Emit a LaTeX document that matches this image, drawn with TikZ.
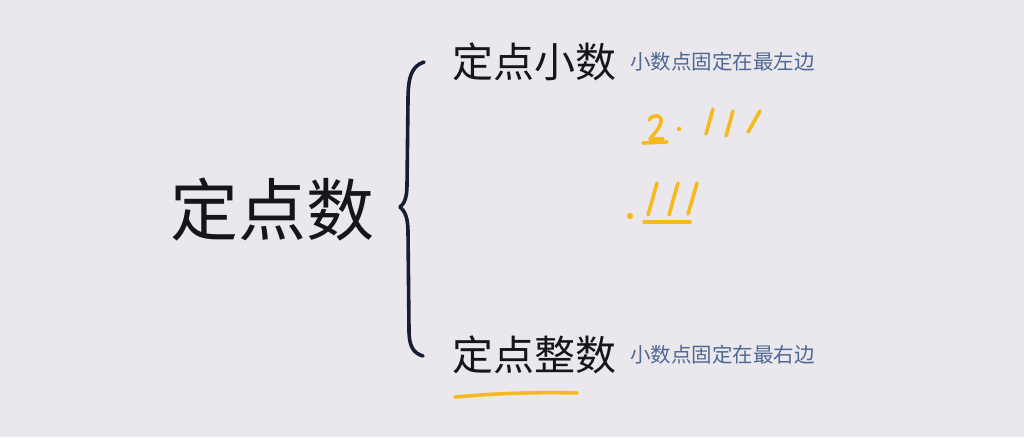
\documentclass[tikz,border=0pt]{standalone}
\usepackage{fontspec}
\newfontfamily\cjk{Noto Sans CJK SC}
\definecolor{bg}{RGB}{234,232,237}
\definecolor{ink}{RGB}{22,22,26}
\definecolor{note}{RGB}{78,104,148}
\definecolor{brace}{RGB}{22,30,52}
\definecolor{hand}{RGB}{246,186,30}
\tikzset{
  big/.style={text=ink,font=\cjk\fontsize{68}{68}\selectfont,inner sep=0pt},
  mid/.style={text=ink,font=\cjk\fontsize{41}{41}\selectfont,inner sep=0pt,anchor=west},
  small/.style={text=note,font=\cjk\fontsize{20.5}{20.5}\selectfont,inner sep=0pt,anchor=west},
  pen/.style={draw=hand,line width=3.6pt,line cap=round,line join=round},
  bracepen/.style={draw=brace,line width=3.6pt,line cap=round,line join=round}
}
\begin{document}
\begin{tikzpicture}[x=1pt,y=-1pt]
\fill[bg] (0,0) rectangle (1024,437);
\useasboundingbox (0,0) rectangle (1024,437);
% texts
\node[big] (fixed) at (272,210) {定点数};
\node[mid] (frac) at (452,62) {定点小数};
\node[small] (fracnote) at (630,62) {小数点固定在最左边};
\node[mid] (int) at (452,355) {定点整数};
\node[small] (intnote) at (630,355) {小数点固定在最右边};
% brace
\draw[bracepen] (424,62) .. controls (412,66) and (408,76) .. (408,100)
  -- (407,185) .. controls (407,198) and (404,204) .. (400,207)
  .. controls (405,211) and (408,218) .. (408,232)
  -- (409,330) .. controls (409,346) and (413,353) .. (423,356);
% handwriting 2.111
\draw[pen] (649,120) .. controls (653,114) and (662,114) .. (661,122)
  .. controls (660,129) and (653,134) .. (650,139) -- (663,139);
\draw[pen] (643,143) -- (667,142);
\fill[hand] (679,129) circle (2.2pt);
\draw[pen] (713,109) -- (706,134);
\draw[pen] (733,111) -- (726,136);
\draw[pen] (760,111) -- (748,132);
% handwriting .111
\fill[hand] (630,216) circle (3.2pt);
\draw[pen] (657,183) -- (648,215);
\draw[pen] (678,183) -- (669,215);
\draw[pen] (697,183) -- (688,214);
\draw[pen] (644,222) -- (690,222);
% underline under int
\draw[pen] (455,397) .. controls (500,393) and (540,392) .. (577,393);
\end{tikzpicture}
\end{document}
